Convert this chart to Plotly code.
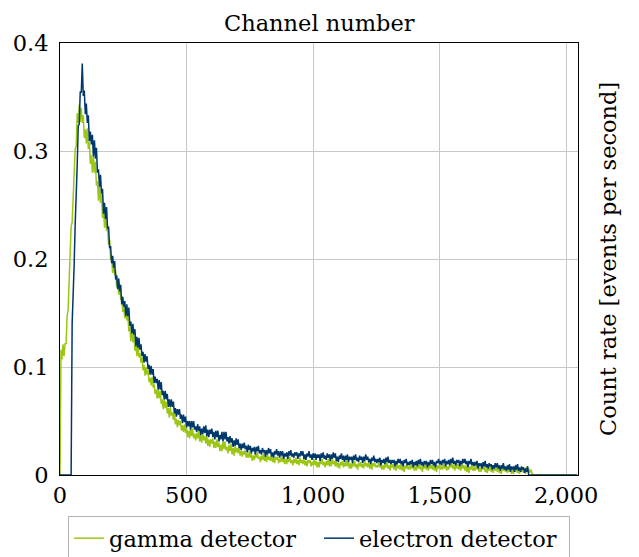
import plotly.graph_objects as go

# Channel positions (every 4th channel of a 2048-channel spectrum)
channels = list(range(0, 2048, 4))

# Count rate [events per second]; one row = 64 channels
gamma_detector = [
    0, 0.116, 0.107, 0.121, 0.110, 0.122, 0.121, 0.147, 0.153, 0.186, 0.199, 0.230, 0.234, 0.264, 0.272, 0.302,
    0.304, 0.335, 0.326, 0.343, 0.327, 0.340, 0.326, 0.333, 0.312, 0.320, 0.307, 0.321, 0.302, 0.308, 0.288, 0.296,
    0.280, 0.295, 0.280, 0.290, 0.268, 0.272, 0.254, 0.268, 0.252, 0.261, 0.238, 0.246, 0.229, 0.244, 0.226, 0.229,
    0.213, 0.218, 0.199, 0.202, 0.187, 0.196, 0.185, 0.189, 0.174, 0.178, 0.167, 0.177, 0.162, 0.166, 0.151, 0.157,
    0.145, 0.154, 0.143, 0.149, 0.133, 0.137, 0.124, 0.134, 0.123, 0.130, 0.115, 0.121, 0.110, 0.121, 0.109, 0.113,
    0.104, 0.109, 0.097, 0.102, 0.092, 0.100, 0.093, 0.097, 0.086, 0.090, 0.083, 0.091, 0.081, 0.084, 0.075, 0.079,
    0.071, 0.079, 0.071, 0.078, 0.066, 0.070, 0.061, 0.070, 0.062, 0.068, 0.057, 0.062, 0.053, 0.063, 0.055, 0.058,
    0.051, 0.058, 0.047, 0.052, 0.044, 0.051, 0.046, 0.050, 0.041, 0.046, 0.040, 0.047, 0.039, 0.044, 0.035, 0.041,
    0.034, 0.043, 0.036, 0.043, 0.034, 0.038, 0.032, 0.039, 0.034, 0.041, 0.031, 0.037, 0.030, 0.039, 0.032, 0.036,
    0.029, 0.037, 0.027, 0.033, 0.026, 0.033, 0.029, 0.034, 0.025, 0.031, 0.025, 0.033, 0.026, 0.030, 0.022, 0.028,
    0.022, 0.031, 0.024, 0.031, 0.023, 0.026, 0.020, 0.028, 0.022, 0.029, 0.019, 0.025, 0.018, 0.027, 0.021, 0.025,
    0.020, 0.026, 0.018, 0.022, 0.017, 0.022, 0.019, 0.023, 0.016, 0.020, 0.016, 0.022, 0.016, 0.020, 0.013, 0.018,
    0.014, 0.020, 0.016, 0.021, 0.015, 0.017, 0.012, 0.018, 0.014, 0.020, 0.013, 0.018, 0.012, 0.019, 0.014, 0.017,
    0.013, 0.019, 0.012, 0.016, 0.011, 0.017, 0.014, 0.017, 0.011, 0.015, 0.012, 0.018, 0.012, 0.016, 0.010, 0.015,
    0.010, 0.016, 0.012, 0.017, 0.011, 0.014, 0.009, 0.015, 0.011, 0.016, 0.010, 0.014, 0.009, 0.016, 0.011, 0.014,
    0.010, 0.016, 0.009, 0.013, 0.008, 0.014, 0.011, 0.014, 0.008, 0.012, 0.009, 0.015, 0.009, 0.013, 0.007, 0.012,
    0.007, 0.014, 0.010, 0.015, 0.009, 0.012, 0.007, 0.013, 0.009, 0.015, 0.008, 0.013, 0.008, 0.015, 0.010, 0.013,
    0.008, 0.014, 0.007, 0.011, 0.006, 0.012, 0.009, 0.013, 0.007, 0.011, 0.008, 0.014, 0.008, 0.012, 0.006, 0.011,
    0.006, 0.011, 0.008, 0.013, 0.007, 0.010, 0.005, 0.011, 0.008, 0.012, 0.007, 0.010, 0.006, 0.013, 0.008, 0.011,
    0.007, 0.012, 0.006, 0.010, 0.005, 0.011, 0.008, 0.011, 0.007, 0.009, 0.007, 0.012, 0.007, 0.010, 0.005, 0.009,
    0.005, 0.010, 0.007, 0.012, 0.006, 0.009, 0.004, 0.010, 0.007, 0.010, 0.005, 0.008, 0.004, 0.011, 0.006, 0.009,
    0.005, 0.010, 0.004, 0.008, 0.003, 0.009, 0.006, 0.010, 0.005, 0.008, 0.005, 0.011, 0.006, 0.009, 0.004, 0.008,
    0.004, 0.009, 0.006, 0.011, 0.005, 0.008, 0.003, 0.009, 0.006, 0.010, 0.005, 0.008, 0.004, 0.011, 0.006, 0.009,
    0.005, 0.010, 0.004, 0.008, 0.003, 0.009, 0.006, 0.010, 0.005, 0.008, 0.005, 0.011, 0.006, 0.009, 0.004, 0.008,
    0.005, 0.010, 0.007, 0.012, 0.006, 0.009, 0.004, 0.010, 0.006, 0.010, 0.005, 0.008, 0.004, 0.011, 0.006, 0.009,
    0.004, 0.009, 0.003, 0.007, 0.002, 0.008, 0.005, 0.009, 0.004, 0.007, 0.004, 0.010, 0.005, 0.008, 0.003, 0.007,
    0.003, 0.008, 0.005, 0.009, 0.003, 0.006, 0.002, 0.007, 0.004, 0.008, 0.003, 0.006, 0.002, 0.009, 0.004, 0.007,
    0.003, 0.008, 0.002, 0.006, 0.001, 0.007, 0.004, 0.008, 0.003, 0.005, 0.002, 0.008, 0.003, 0.006, 0.001, 0.005,
    0.001, 0.006, 0.003, 0.008, 0.002, 0.005, 0.001, 0.006, 0.003, 0.007, 0.002, 0.005, 0.001, 0.008, 0.003, 0.006,
    0.002, 0.005, 0.003, 0, 0, 0, 0, 0, 0, 0, 0, 0, 0, 0, 0, 0,
    0, 0, 0, 0, 0, 0, 0, 0, 0, 0, 0, 0, 0, 0, 0, 0,
    0, 0, 0, 0, 0, 0, 0, 0, 0, 0, 0, 0, 0, 0, 0, 0,
]

electron_detector = [
    0, 0, 0, 0, 0, 0, 0, 0, 0, 0, 0, 0, 0.140, 0.162, 0.195, 0.232,
    0.275, 0.287, 0.323, 0.325, 0.355, 0.354, 0.381, 0.351, 0.356, 0.334, 0.344, 0.326, 0.333, 0.309, 0.318, 0.306,
    0.315, 0.295, 0.310, 0.293, 0.303, 0.280, 0.283, 0.267, 0.278, 0.261, 0.265, 0.242, 0.252, 0.237, 0.248, 0.228,
    0.230, 0.210, 0.212, 0.196, 0.203, 0.192, 0.198, 0.181, 0.185, 0.172, 0.182, 0.170, 0.176, 0.158, 0.165, 0.156,
    0.161, 0.147, 0.158, 0.147, 0.155, 0.138, 0.142, 0.131, 0.140, 0.130, 0.135, 0.119, 0.128, 0.118, 0.127, 0.116,
    0.121, 0.110, 0.114, 0.104, 0.112, 0.105, 0.110, 0.098, 0.102, 0.093, 0.101, 0.093, 0.098, 0.085, 0.091, 0.085,
    0.089, 0.079, 0.088, 0.079, 0.086, 0.074, 0.078, 0.070, 0.078, 0.070, 0.075, 0.063, 0.070, 0.063, 0.070, 0.063,
    0.068, 0.057, 0.062, 0.054, 0.061, 0.056, 0.061, 0.052, 0.056, 0.048, 0.056, 0.049, 0.054, 0.044, 0.050, 0.045,
    0.050, 0.042, 0.050, 0.044, 0.050, 0.042, 0.045, 0.040, 0.047, 0.041, 0.045, 0.037, 0.043, 0.038, 0.045, 0.039,
    0.046, 0.036, 0.042, 0.035, 0.042, 0.038, 0.043, 0.035, 0.040, 0.033, 0.041, 0.035, 0.041, 0.031, 0.037, 0.033,
    0.040, 0.031, 0.040, 0.033, 0.040, 0.031, 0.035, 0.029, 0.036, 0.030, 0.034, 0.026, 0.032, 0.027, 0.034, 0.028,
    0.033, 0.025, 0.029, 0.023, 0.029, 0.025, 0.030, 0.024, 0.027, 0.021, 0.028, 0.023, 0.027, 0.020, 0.025, 0.022,
    0.026, 0.019, 0.026, 0.022, 0.027, 0.020, 0.023, 0.019, 0.025, 0.021, 0.023, 0.017, 0.023, 0.019, 0.025, 0.020,
    0.024, 0.017, 0.021, 0.016, 0.022, 0.019, 0.024, 0.018, 0.022, 0.016, 0.022, 0.018, 0.022, 0.015, 0.020, 0.017,
    0.021, 0.015, 0.022, 0.018, 0.023, 0.017, 0.020, 0.016, 0.021, 0.018, 0.021, 0.015, 0.020, 0.017, 0.022, 0.018,
    0.022, 0.015, 0.019, 0.014, 0.020, 0.017, 0.022, 0.016, 0.019, 0.014, 0.020, 0.016, 0.020, 0.014, 0.019, 0.016,
    0.019, 0.013, 0.020, 0.016, 0.021, 0.015, 0.018, 0.014, 0.020, 0.016, 0.019, 0.013, 0.019, 0.015, 0.021, 0.016,
    0.020, 0.013, 0.017, 0.012, 0.018, 0.015, 0.020, 0.014, 0.018, 0.012, 0.018, 0.014, 0.019, 0.012, 0.017, 0.014,
    0.017, 0.011, 0.018, 0.014, 0.019, 0.013, 0.016, 0.012, 0.018, 0.014, 0.017, 0.011, 0.017, 0.013, 0.019, 0.014,
    0.017, 0.012, 0.015, 0.010, 0.016, 0.013, 0.018, 0.012, 0.015, 0.011, 0.015, 0.012, 0.016, 0.009, 0.014, 0.011,
    0.015, 0.010, 0.016, 0.012, 0.017, 0.011, 0.014, 0.010, 0.014, 0.011, 0.014, 0.008, 0.013, 0.010, 0.015, 0.011,
    0.015, 0.010, 0.013, 0.008, 0.014, 0.011, 0.015, 0.009, 0.012, 0.009, 0.013, 0.010, 0.014, 0.007, 0.012, 0.009,
    0.013, 0.008, 0.014, 0.010, 0.015, 0.009, 0.012, 0.008, 0.013, 0.010, 0.013, 0.007, 0.012, 0.009, 0.014, 0.010,
    0.014, 0.009, 0.012, 0.007, 0.013, 0.011, 0.015, 0.010, 0.013, 0.009, 0.014, 0.011, 0.015, 0.008, 0.013, 0.010,
    0.014, 0.009, 0.015, 0.011, 0.016, 0.010, 0.013, 0.009, 0.014, 0.011, 0.014, 0.008, 0.013, 0.010, 0.015, 0.011,
    0.015, 0.010, 0.013, 0.007, 0.013, 0.010, 0.015, 0.009, 0.012, 0.008, 0.012, 0.009, 0.013, 0.006, 0.011, 0.008,
    0.011, 0.006, 0.012, 0.008, 0.013, 0.007, 0.010, 0.006, 0.011, 0.008, 0.010, 0.005, 0.009, 0.006, 0.011, 0.007,
    0.011, 0.006, 0.009, 0.004, 0.009, 0.006, 0.011, 0.005, 0.008, 0.004, 0.009, 0.005, 0.010, 0.003, 0.008, 0.005,
    0.008, 0.003, 0.009, 0.005, 0.010, 0.004, 0.007, 0.003, 0.008, 0.005, 0.007, 0.002, 0.006, 0.003, 0.008, 0,
    0, 0, 0, 0, 0, 0, 0, 0, 0, 0, 0, 0, 0, 0, 0, 0,
    0, 0, 0, 0, 0, 0, 0, 0, 0, 0, 0, 0, 0, 0, 0, 0,
    0, 0, 0, 0, 0, 0, 0, 0, 0, 0, 0, 0, 0, 0, 0, 0,
]

x_tickvals = [0, 500, 1000, 1500, 2000]
x_ticktext = ["0", "500", "1,000", "1,500", "2,000"]
y_tickvals = [0, 0.1, 0.2, 0.3, 0.4]
y_ticktext = ["0", "0.1", "0.2", "0.3", "0.4"]

GREEN = "#9CC613"
BLUE = "#00386B"
FONT = "DejaVu Serif"
FS = 22.5

fig = go.Figure()
fig.add_trace(go.Scatter(x=channels, y=gamma_detector, mode="lines",
                         name="gamma detector",
                         line=dict(color=GREEN, width=1.5)))
fig.add_trace(go.Scatter(x=channels, y=electron_detector, mode="lines",
                         name="electron detector",
                         line=dict(color=BLUE, width=1.5)))

axis_common = dict(showline=True, linecolor="black", linewidth=1, mirror=True,
                   showgrid=True, gridcolor="#C8C8C8", gridwidth=1,
                   zeroline=False, ticks="",
                   tickfont=dict(family=FONT, size=FS, color="black"))

fig.update_xaxes(range=[0, 2047], tickvals=x_tickvals, ticktext=x_ticktext,
                 **axis_common)
fig.update_yaxes(range=[0, 0.4], tickvals=y_tickvals, ticktext=y_ticktext,
                 ticklabelstandoff=6, **axis_common)

fig.update_layout(
    width=639, height=557,
    margin=dict(l=60, r=61, t=43, b=82, autoexpand=False),
    paper_bgcolor="white", plot_bgcolor="white",
    font=dict(family=FONT, size=FS, color="black"),
    showlegend=True,
    legend=dict(orientation="h", x=0.5, xanchor="center", y=-0.095, yanchor="top",
                bordercolor="#B4B4B4", borderwidth=1, bgcolor="white",
                font=dict(family=FONT, size=FS, color="black"),
                tracegroupgap=0, itemwidth=30,
                entrywidth=205, entrywidthmode="pixels"),
    annotations=[
        dict(text="Channel number", x=0.5, y=1, xref="paper", yref="paper",
             xanchor="center", yanchor="bottom", yshift=5, showarrow=False,
             font=dict(family=FONT, size=FS, color="black")),
        dict(text="Count rate [events per second]", x=1, y=0.5,
             xref="paper", yref="paper", xanchor="left", yanchor="middle",
             xshift=15, textangle=-90, showarrow=False,
             font=dict(family=FONT, size=FS, color="black")),
    ],
)

fig.write_html("out.html")
